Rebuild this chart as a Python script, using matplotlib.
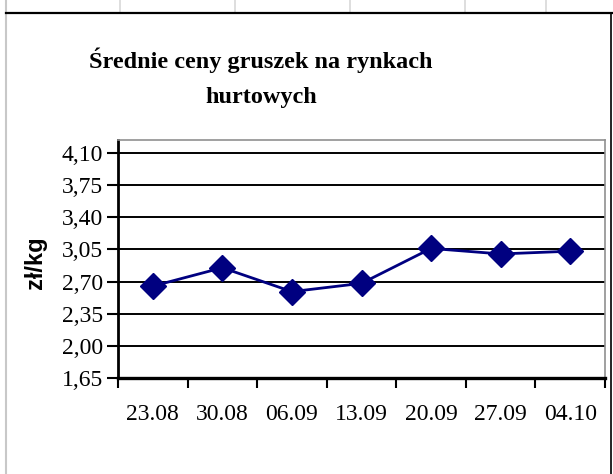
import matplotlib
matplotlib.use("Agg")
import matplotlib.pyplot as plt
from matplotlib.lines import Line2D
import numpy as np

categories = ["23.08", "30.08", "06.09", "13.09", "20.09", "27.09", "04.10"]
prices = [2.65, 2.85, 2.59, 2.68, 3.06, 3.00, 3.03]
ytick_values = [1.65, 2.00, 2.35, 2.70, 3.05, 3.40, 3.75, 4.10]
ytick_labels = ["1,65", "2,00", "2,35", "2,70", "3,05", "3,40", "3,75", "4,10"]

W, H = 613, 474
fig = plt.figure(figsize=(W / 100, H / 100), dpi=100)
fig.patch.set_facecolor("white")

# spreadsheet-like surroundings
for gx in [120, 235, 350, 465, 546]:
    fig.add_artist(Line2D([gx / W, gx / W], [1, 1 - 12 / H], color="#d8d8d8", lw=1.2))
fig.add_artist(Line2D([6 / W, 6 / W], [0, 1], color="#c8c8c8", lw=1.5))
fig.add_artist(Line2D([6 / W, 1], [1 - 13 / H, 1 - 13 / H], color="black", lw=1.6))
fig.add_artist(Line2D([611 / W, 611 / W], [0, 1 - 13 / H], color="black", lw=1.2))

ax = fig.add_axes([118 / W, 1 - 378 / H, (605 - 118) / W, (378 - 140) / H])
x = np.arange(len(categories))
ax.set_xlim(-0.5, len(categories) - 0.5)
ax.set_ylim(1.65, 4.24)

for yv in ytick_values[1:]:
    ax.axhline(yv, color="black", lw=1.4, zorder=1)

ax.plot(x, prices, color="#000080", lw=2.0, marker="D", markersize=13.5,
        markerfacecolor="#000080", markeredgecolor="#000080", zorder=3, clip_on=False)

ax.set_yticks(ytick_values)
ax.set_yticklabels(ytick_labels, fontfamily="Liberation Serif", fontsize=17)
ax.tick_params(axis="y", direction="out", length=8, width=1.5, pad=3)

ax.set_xticks(np.arange(-0.5, len(categories) + 0.5, 1.0))
ax.set_xticklabels([])
ax.tick_params(axis="x", which="major", direction="out", length=7, width=1.5)
ax.set_xticks(x, minor=True)
ax.set_xticklabels(categories, minor=True, fontfamily="Liberation Serif", fontsize=17)
ax.tick_params(axis="x", which="minor", length=0, pad=19)

ax.spines["left"].set_color("black")
ax.spines["left"].set_linewidth(2)
ax.spines["bottom"].set_color("black")
ax.spines["bottom"].set_linewidth(2.4)
ax.spines["top"].set_color("#909090")
ax.spines["top"].set_linewidth(1.2)
ax.spines["right"].set_color("#909090")
ax.spines["right"].set_linewidth(1.2)

fig.text(36 / W, 1 - 263 / H, "zł/kg", rotation=90, ha="center", va="center",
         fontfamily="Liberation Sans", fontweight="bold", fontsize=17)

fig.text(261 / W, 1 - 60 / H, "Średnie ceny gruszek na rynkach", ha="center", va="center",
         fontfamily="Liberation Serif", fontweight="bold", fontsize=17.5)
fig.text(261 / W, 1 - 97 / H, "hurtowych", ha="center", va="center",
         fontfamily="Liberation Serif", fontweight="bold", fontsize=17.5)

fig.savefig("out.png", dpi=100, facecolor="white")
